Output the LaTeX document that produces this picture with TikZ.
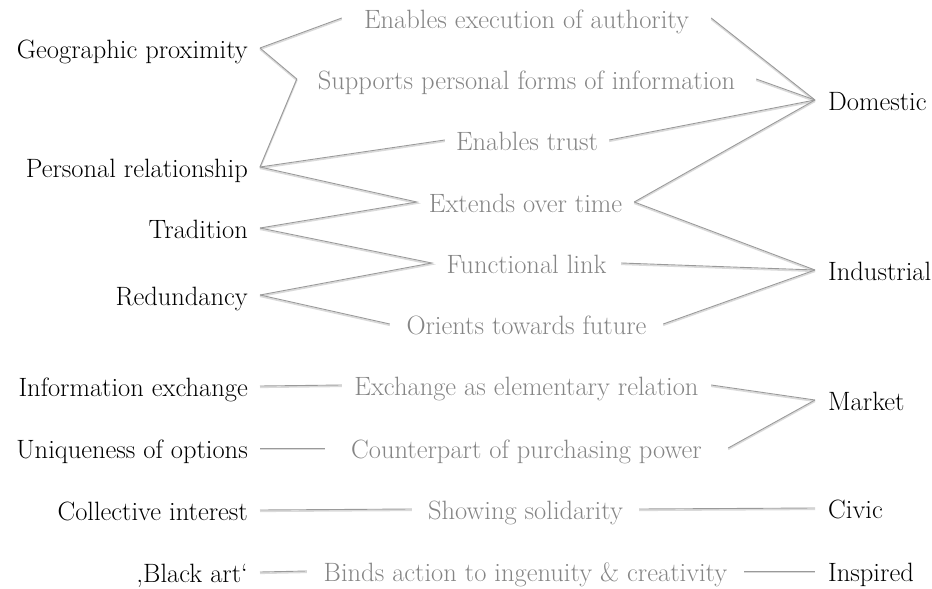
\documentclass[tikz,border=0pt]{standalone}
\usepackage{fontspec}
\setmainfont{Latin Modern Roman}
\definecolor{valuegray}{HTML}{858585}
\definecolor{linkgray}{HTML}{9A9A9A}
\definecolor{shadegray}{HTML}{DADADA}
\begin{document}
\begin{tikzpicture}[x=1pt,y=-1pt,
  every node/.style={font=\fontsize{26.5}{30}\selectfont, text height=20.5pt, text depth=0pt, inner ysep=0pt},
  cause/.style={anchor=east, inner xsep=12pt, text=black},
  value/.style={anchor=center, inner xsep=0pt, text=valuegray},
  world/.style={anchor=west, inner xsep=13pt, text=black},
  link/.style={draw=linkgray, line width=0.9pt,
    preaction={draw=shadegray, line width=1.6pt, transform canvas={yshift=-1.3pt}}}]
\useasboundingbox (0,0) rectangle (932,589);

% justifications (left column)
\node[cause] (geo)  at (260,48)  {Geographic proximity};
\node[cause] (pers) at (260,167) {Personal relationship};
\node[cause] (trad) at (260,228) {Tradition};
\node[cause] (red)  at (260,295) {Redundancy};
\node[cause] (info) at (260,386) {Information exchange};
\node[cause] (uniq) at (260,448) {Uniqueness of options};
\node[cause] (coll) at (260,510) {Collective interest};
\node[cause] (black) at (260,572) {‚Black art‘};

% qualities (middle column)
\node[value, minimum width=369pt] (auth)  at (526.5,18)  {Enables execution of authority};
\node[value, minimum width=459pt] (forms) at (526.5,79)  {Supports personal forms of information};
\node[value, minimum width=164pt] (trust) at (527,140)   {Enables trust};
\node[value, minimum width=217pt] (time)  at (525.5,202) {Extends over time};
\node[value, minimum width=189pt] (func)  at (526.5,263) {Functional link};
\node[value, minimum width=273pt] (fut)   at (526.5,324) {Orients towards future};
\node[value, minimum width=369pt] (exch)  at (526.5,385) {Exchange as elementary relation};
\node[value, minimum width=403pt] (purch) at (526.5,448) {Counterpart of purchasing power};
\node[value, minimum width=227pt] (sol)   at (525.5,509) {Showing solidarity};
\node[value, minimum width=437pt] (ingen) at (525.5,571) {Binds action to ingenuity \& creativity};

% orders of worth (right column)
\node[world] (dom)  at (815,100) {Domestic};
\node[world] (ind)  at (815,270) {Industrial};
\node[world] (mkt)  at (815,400) {Market};
\node[world] (civ)  at (815,508) {Civic};
\node[world] (insp) at (815,571) {Inspired};

% left links
\draw[link] (geo.east) -- (auth.west);
\draw[link] (geo.east) -- (forms.west) -- (pers.east);
\draw[link] (pers.east) -- (trust.west);
\draw[link] (pers.east) -- (time.west) -- (trad.east);
\draw[link] (trad.east) -- (func.west) -- (red.east);
\draw[link] (red.east) -- (fut.west);
\draw[link] (info.east) -- (exch.west);
\draw[link] (uniq.east) -- (purch.west);
\draw[link] (coll.east) -- (sol.west);
\draw[link] (black.east) -- (ingen.west);

% right links
\draw[link] (auth.east) -- (dom.west);
\draw[link] (forms.east) -- (dom.west);
\draw[link] (trust.east) -- (dom.west);
\draw[link] (time.east) -- (dom.west);
\draw[link] (time.east) -- (ind.west);
\draw[link] (func.east) -- (ind.west);
\draw[link] (fut.east) -- (ind.west);
\draw[link] (exch.east) -- (mkt.west);
\draw[link] (purch.east) -- (mkt.west);
\draw[link] (sol.east) -- (civ.west);
\draw[link] (ingen.east) -- (insp.west);
\end{tikzpicture}
\end{document}
